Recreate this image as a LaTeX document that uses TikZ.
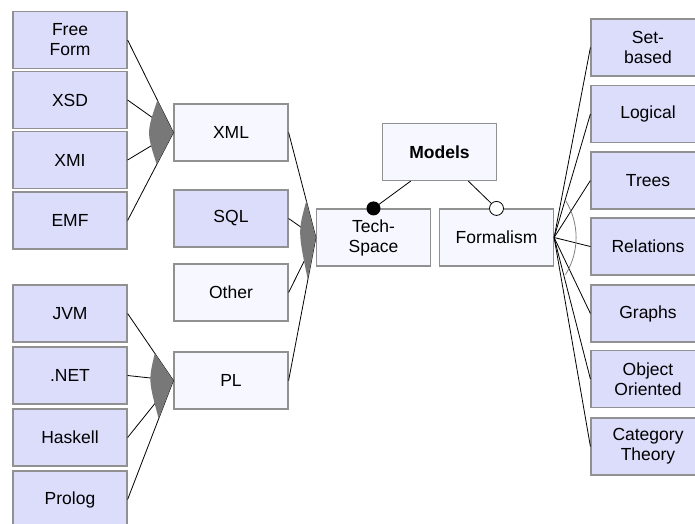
\documentclass[tikz,border=0pt]{standalone}
\usepackage{fontspec}
\setmainfont{Liberation Sans}
\usetikzlibrary{calc}
\definecolor{lav}{RGB}{220,221,251}
\definecolor{pale}{RGB}{247,247,255}
\definecolor{bord}{RGB}{145,145,145}
\definecolor{fanc}{RGB}{120,120,120}
\newcommand{\orfan}[7]{%
  \fill[fanc] (#1) -- ($(#1)!#4pt!(#2)$) .. controls ($(#1)+(-#6,-#7)$) .. ($(#1)!#5pt!(#3)$) -- cycle;}
\begin{document}
\begin{tikzpicture}[x=1pt,y=-1pt,
  box/.style={draw=bord, line width=1.2pt, minimum width=114pt, minimum height=57pt,
    align=center, inner sep=2pt, font=\fontsize{17.5}{20}\selectfont},
  lbox/.style={box, fill=lav},
  wbox/.style={box, fill=pale},
  conn/.style={line width=0.8pt, black},
  ]
\path[use as bounding box] (0,0) rectangle (695,523);
\clip (0,0) rectangle (695,523);
% left column
\node[lbox] (ff)  at (70,40)    {Free\\Form};
\node[lbox] (xsd) at (70,100)   {XSD};
\node[lbox] (xmi) at (70,160)   {XMI};
\node[lbox] (emf) at (70,220.5) {EMF};
\node[lbox] (jvm) at (70,313.5) {JVM};
\node[lbox] (net) at (70,375.5) {.NET};
\node[lbox] (hsk) at (70,437.5) {Haskell};
\node[lbox] (pro) at (70,499.5) {Prolog};
% middle column
\node[wbox] (xml) at (231,132.5) {XML};
\node[lbox] (sql) at (231,218.5) {SQL};
\node[wbox] (oth) at (231,292.5) {Other};
\node[wbox] (pl)  at (231,380.5) {PL};
% center
\node[wbox] (ts)  at (373.5,237.5) {Tech-\\Space};
\node[wbox] (fo)  at (496.5,237.5) {Formalism};
\node[wbox, font=\fontsize{17.5}{20}\selectfont\bfseries] (mo) at (439.5,152) {Models};
% right column
\node[lbox] (sb)  at (648,47.5)  {Set-\\based};
\node[lbox] (lg)  at (648,114)   {Logical};
\node[lbox] (tr)  at (648,180.5) {Trees};
\node[lbox] (re)  at (648,246.5) {Relations};
\node[lbox] (gr)  at (648,313.5) {Graphs};
\node[lbox] (oo)  at (648,379)   {Object\\Oriented};
\node[lbox] (ct)  at (648,446.5) {Category\\Theory};
% connectors
\foreach \n in {ff,xsd,xmi,emf} \draw[conn] (\n.east) -- (xml.west);
\foreach \n in {jvm,net,hsk,pro} \draw[conn] (\n.east) -- (pl.west);
\foreach \n in {xml,sql,oth,pl} \draw[conn] (\n.east) -- (ts.west);
\foreach \n in {sb,lg,tr,re,gr,oo,ct} \draw[conn] (fo.east) -- (\n.west);
% or-group fans
\orfan{xml.west}{ff.east}{emf.east}{36}{36}{27}{0}
\orfan{pl.west}{jvm.east}{pro.east}{33}{41}{25}{0}
\orfan{ts.west}{xml.east}{pl.east}{38}{43}{18}{6}
% alternative arc
\coordinate (arcc) at ($(fo.east)+(-48,0)$);
\draw[line width=0.8pt, black!50] (arcc) ++(32:70) arc[start angle=32, end angle=-32, radius=70];
% models links
\coordinate (ml) at ($(mo.south west)!0.25!(mo.south east)$);
\coordinate (mr) at ($(mo.south west)!0.75!(mo.south east)$);
\draw[conn] (ml) -- (ts.north);
\draw[conn] (mr) -- (fo.north);
\fill[black] (ts.north) circle[radius=7];
\draw[line width=0.8pt, fill=white] (fo.north) circle[radius=7];
\end{tikzpicture}
\end{document}
